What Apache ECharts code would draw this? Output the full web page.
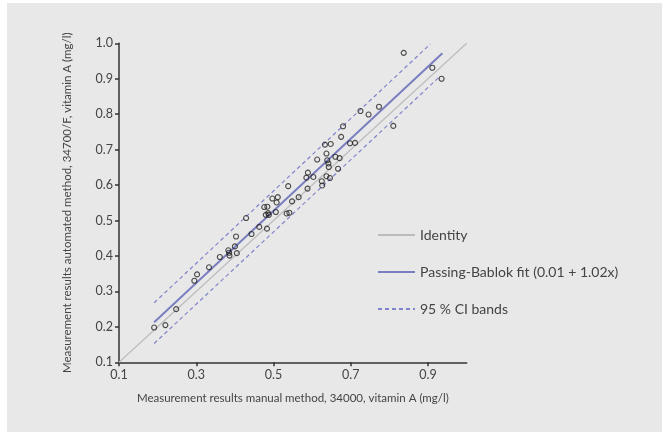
<!DOCTYPE html>
<html>
<head>
<meta charset="utf-8">
<script src="https://cdn.jsdelivr.net/npm/echarts@6/dist/echarts.min.js"></script>
<style>
    body { margin: 0; background: #fff; }
    #main { position: absolute; left: 7px; top: 3px; width: 655px; height: 429px; }
</style>
</head>
<body>
<div id="main"></div>
<script>
// manual method (x) vs automated method (y), mg/l
var manualX = [0.191, 0.220, 0.248, 0.295, 0.302, 0.333, 0.361, 0.383, 0.385, 0.386,
    0.400, 0.403, 0.405, 0.429, 0.443, 0.463, 0.476, 0.484, 0.480, 0.486,
    0.488, 0.483, 0.497, 0.511, 0.508, 0.506, 0.538, 0.534, 0.541, 0.548,
    0.565, 0.585, 0.589, 0.588, 0.603, 0.613, 0.625, 0.626, 0.633, 0.637,
    0.639, 0.642, 0.643, 0.637, 0.646, 0.648, 0.660, 0.671, 0.667, 0.675,
    0.680, 0.698, 0.711, 0.725, 0.746, 0.773, 0.810, 0.837, 0.911, 0.935];
var autoY = [0.198, 0.205, 0.250, 0.330, 0.348, 0.368, 0.397, 0.416, 0.409, 0.401,
    0.427, 0.455, 0.408, 0.507, 0.462, 0.482, 0.538, 0.539, 0.516, 0.521,
    0.516, 0.477, 0.562, 0.566, 0.551, 0.524, 0.597, 0.520, 0.522, 0.554,
    0.566, 0.621, 0.635, 0.590, 0.623, 0.672, 0.611, 0.599, 0.714, 0.689,
    0.670, 0.661, 0.651, 0.625, 0.620, 0.716, 0.680, 0.676, 0.646, 0.736,
    0.766, 0.718, 0.719, 0.809, 0.799, 0.821, 0.767, 0.973, 0.931, 0.900];

var identityX = [0.1, 1.0];
var identityY = [0.1, 1.0];
var fitX = [0.191, 0.937];
var fitY = [0.213, 0.972];
var ciUpperX = [0.191, 0.906];
var ciUpperY = [0.268, 0.998];
var ciLowerX = [0.191, 0.930];
var ciLowerY = [0.153, 0.906];

var xTicks = [0.1, 0.3, 0.5, 0.7, 0.9];
var legendNames = ['Identity', 'Passing-Bablok fit (0.01 + 1.02x)', '95 % CI bands'];

function pairs(xs, ys) {
    var out = [];
    for (var i = 0; i < xs.length; i++) {
        out.push([xs[i], ys[i]]);
    }
    return out;
}

var font = 'Lato, "Open Sans", sans-serif';
var textColor = '#444';

var myChart = echarts.init(document.getElementById('main'));
var option = {
    backgroundColor: '#e8e8e8',
    animation: false,
    grid: {
        left: 112,
        top: 40.3,
        right: 195.3,
        bottom: 69.7
    },
    legend: {
        orient: 'vertical',
        left: 370,
        top: 225,
        padding: 0,
        itemWidth: 37,
        itemHeight: 14,
        itemGap: 23,
        data: legendNames,
        itemStyle: { opacity: 0 },
        textStyle: { color: textColor, fontSize: 14, fontFamily: font }
    },
    xAxis: {
        type: 'value',
        min: 0.1,
        max: 1.0,
        name: 'Measurement results manual method, 34000, vitamin A (mg/l)',
        nameLocation: 'middle',
        nameGap: 30,
        nameTextStyle: { color: textColor, fontSize: 11.5, fontFamily: font },
        axisLine: { lineStyle: { color: '#333', width: 1.5 } },
        axisTick: { show: true, length: 4, customValues: xTicks, lineStyle: { color: '#333', width: 1.5 } },
        axisLabel: {
            customValues: xTicks,
            color: textColor, fontSize: 12.5, fontFamily: font, margin: 6,
            formatter: function (v) { return v.toFixed(1); }
        },
        splitLine: { show: false }
    },
    yAxis: {
        type: 'value',
        min: 0.1,
        max: 1.0,
        interval: 0.1,
        name: 'Measurement results automated method, 34700/F, vitamin A (mg/l)',
        nameLocation: 'middle',
        nameGap: 46,
        nameTextStyle: { color: textColor, fontSize: 11.5, fontFamily: font },
        axisLine: { show: true, lineStyle: { color: '#333', width: 1.5 } },
        axisTick: { show: true, length: 4, lineStyle: { color: '#333', width: 1.5 } },
        axisLabel: {
            color: textColor, fontSize: 12.5, fontFamily: font, margin: 6,
            formatter: function (v) { return v.toFixed(1); }
        },
        splitLine: { show: false }
    },
    series: [
        {
            name: 'Identity',
            type: 'line',
            symbol: 'none',
            data: pairs(identityX, identityY),
            lineStyle: { color: '#bcbcbc', width: 1.2 },
            itemStyle: { color: '#bcbcbc' },
            z: 1
        },
        {
            name: '95 % CI bands',
            type: 'line',
            symbol: 'none',
            data: pairs(ciUpperX, ciUpperY),
            lineStyle: { color: '#8084cc', width: 1.2, type: [4, 3] },
            itemStyle: { color: '#8084cc' },
            z: 2
        },
        {
            name: '95 % CI bands',
            type: 'line',
            symbol: 'none',
            data: pairs(ciLowerX, ciLowerY),
            lineStyle: { color: '#8084cc', width: 1.2, type: [4, 3] },
            itemStyle: { color: '#8084cc' },
            z: 2
        },
        {
            name: 'Passing-Bablok fit (0.01 + 1.02x)',
            type: 'line',
            symbol: 'none',
            data: pairs(fitX, fitY),
            lineStyle: { color: '#7a7ec0', width: 2 },
            itemStyle: { color: '#7a7ec0' },
            z: 3
        },
        {
            name: 'points',
            type: 'scatter',
            symbol: 'circle',
            symbolSize: 5,
            data: pairs(manualX, autoY),
            itemStyle: { color: 'rgba(0,0,0,0)', borderColor: '#222', borderWidth: 1.1 },
            z: 5
        }
    ]
};
myChart.setOption(option);
</script>
</body>
</html>
